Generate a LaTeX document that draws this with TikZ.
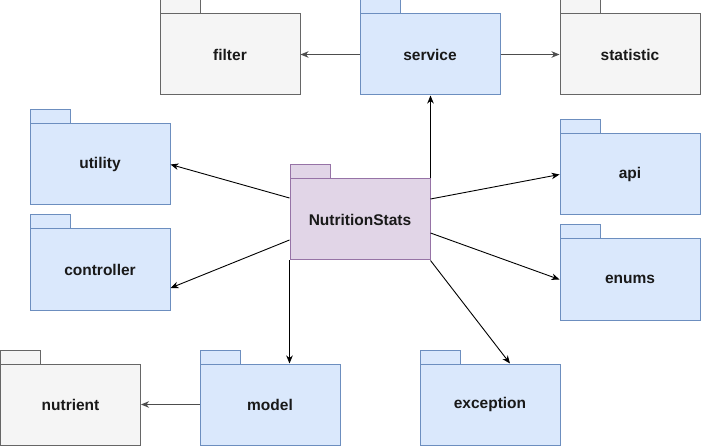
\documentclass[tikz,border=0pt]{standalone}
\usepackage{fontspec}
\setmainfont{Liberation Sans}
\usetikzlibrary{arrows.meta}
\definecolor{bluefill}{HTML}{DAE8FC}
\definecolor{blueline}{HTML}{6C8EBF}
\definecolor{grayfill}{HTML}{F5F5F5}
\definecolor{grayline}{HTML}{666666}
\definecolor{purfill}{HTML}{E1D5E7}
\definecolor{purline}{HTML}{9673A6}
\definecolor{edgegray}{HTML}{4D4D4D}
\tikzset{
  pkgblue/.style={draw=blueline, fill=bluefill, line width=1pt},
  pkggray/.style={draw=grayline, fill=grayfill, line width=1pt},
  pkgpur/.style={draw=purline, fill=purfill, line width=1pt},
  pkgbody/.style={rectangle, minimum width=140pt, minimum height=81pt, inner sep=0pt,
    font=\fontsize{15.5}{18}\selectfont\bfseries, text=black!90},
  dep/.style={draw=black, line width=0.9pt, -{Stealth[length=8pt,width=6.5pt,inset=2.5pt]}},
  depgray/.style={dep, draw=edgegray}
}
\newcommand{\pkgnode}[5]{%
  \draw[#2] (#3,#4-14) rectangle (#3+40,#4);
  \node[#2, pkgbody] (#1) at (#3+70,#4+40.5) {#5};}
\begin{document}
\begin{tikzpicture}[x=1pt,y=-1pt]
\useasboundingbox (0,0) rectangle (701,446);
\pkgnode{filter}{pkggray}{160}{14}{filter}
\pkgnode{service}{pkgblue}{360}{14}{service}
\pkgnode{statistic}{pkggray}{560}{14}{statistic}
\pkgnode{utility}{pkgblue}{30}{124}{utility}
\pkgnode{api}{pkgblue}{560}{134}{api}
\pkgnode{ns}{pkgpur}{290}{179}{NutritionStats}
\pkgnode{controller}{pkgblue}{30}{229}{controller}
\pkgnode{enums}{pkgblue}{560}{239}{enums}
\pkgnode{nutrient}{pkggray}{0.5}{364}{nutrient}
\pkgnode{model}{pkgblue}{200}{364}{model}
\pkgnode{exception}{pkgblue}{420}{364}{exception}

\draw[depgray] (service.west) -- (filter.east);
\draw[depgray] (service.east) -- (statistic.west);
\draw[depgray] (model.west) -- (nutrient.east);
\draw[dep] (ns.north east) -- (ns.north east |- service.south);
\draw[dep] ([yshift=21.5pt]ns.west) -- (utility.east);
\draw[dep] ([yshift=-20.5pt]ns.west) -- ([yshift=-18.5pt]controller.east);
\draw[dep] ([yshift=20.5pt]ns.east) -- (api.west);
\draw[dep] ([yshift=-13.5pt]ns.east) -- (enums.west);
\draw[dep] (ns.south east) -- ([xshift=20pt]exception.north);
\draw[dep] (ns.south west) -- (ns.south west |- model.north);
\end{tikzpicture}
\end{document}
